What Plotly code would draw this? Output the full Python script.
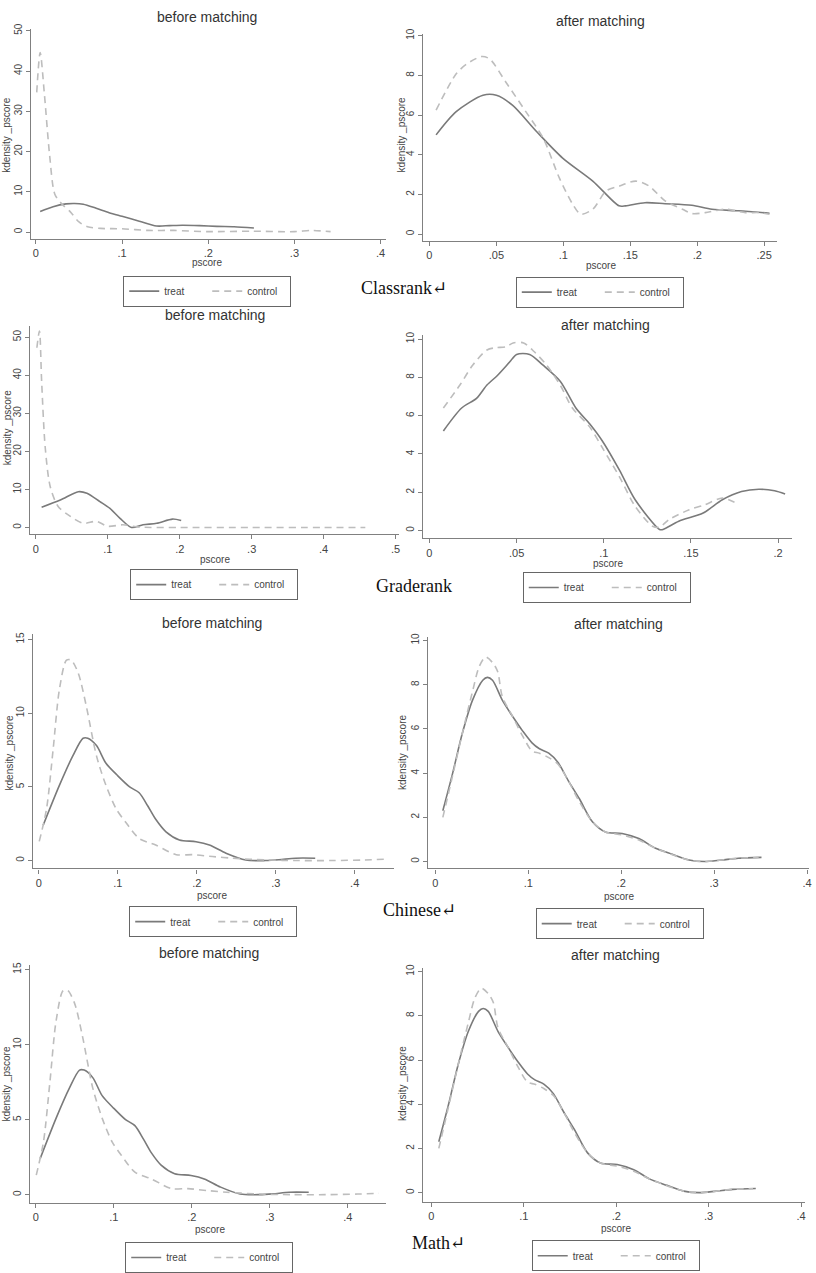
import plotly.graph_objects as go

# ---- values: pscore vs kernel density ----

# Classrank
classrank_before_treat_x = [0.005, 0.02, 0.035, 0.045, 0.055, 0.07, 0.085, 0.1, 0.12, 0.14, 0.155, 0.17, 0.19, 0.21, 0.23, 0.253]
classrank_before_treat_y = [5.1, 6.3, 7.0, 7.1, 6.9, 5.9, 4.8, 3.9, 2.7, 1.5, 1.6, 1.7, 1.6, 1.4, 1.3, 1.0]
classrank_before_control_x = [0.001, 0.005, 0.010, 0.016, 0.022, 0.030, 0.040, 0.050, 0.060, 0.075, 0.10, 0.13, 0.16, 0.20, 0.25, 0.30, 0.32, 0.342]
classrank_before_control_y = [34.7, 44.6, 34.0, 19.0, 9.4, 7.0, 5.0, 2.5, 1.3, 0.9, 0.8, 0.4, 0.4, 0.1, 0.2, 0.1, 0.4, 0.1]

classrank_after_treat_x = [0.005, 0.020, 0.040, 0.050, 0.062, 0.080, 0.0995, 0.122, 0.1416, 0.1465, 0.161, 0.176, 0.196, 0.211, 0.231, 0.254]
classrank_after_treat_y = [5.0, 6.17, 7.0, 7.0, 6.5, 5.17, 3.83, 2.67, 1.42, 1.42, 1.58, 1.53, 1.45, 1.25, 1.17, 1.05]
classrank_after_control_x = [0.005, 0.020, 0.028, 0.039, 0.045, 0.057, 0.072, 0.085, 0.097, 0.107, 0.113, 0.122, 0.132, 0.142, 0.154, 0.164, 0.176, 0.189, 0.196, 0.206, 0.221, 0.236, 0.246, 0.254]
classrank_after_control_y = [6.25, 8.08, 8.58, 8.95, 8.83, 7.67, 6.17, 4.83, 2.83, 1.5, 1.0, 1.25, 2.17, 2.42, 2.67, 2.42, 1.67, 1.25, 1.03, 1.08, 1.25, 1.08, 1.08, 1.0]

# Graderank
graderank_before_treat_x = [0.008, 0.034, 0.059, 0.071, 0.089, 0.103, 0.117, 0.133, 0.149, 0.168, 0.19, 0.202]
graderank_before_treat_y = [5.3, 7.2, 9.4, 9.0, 6.8, 5.0, 2.4, 0.0, 0.7, 1.1, 2.2, 1.8]
graderank_before_control_x = [0.0014, 0.005, 0.008, 0.013, 0.020, 0.031, 0.048, 0.066, 0.084, 0.10, 0.121, 0.144, 0.2, 0.3, 0.4, 0.458]
graderank_before_control_y = [47.2, 51.6, 38.5, 21.0, 10.7, 5.5, 2.9, 1.1, 1.6, 0.3, 0.7, 0.1, 0.0, 0.0, 0.0, 0.0]

graderank_after_treat_x = [0.008, 0.0185, 0.027, 0.033, 0.039, 0.046, 0.050, 0.0575, 0.065, 0.075, 0.084, 0.092, 0.099, 0.109, 0.118, 0.132, 0.134, 0.143, 0.157, 0.168, 0.179, 0.189, 0.198, 0.204]
graderank_after_treat_y = [5.2, 6.4, 6.9, 7.6, 8.1, 8.8, 9.2, 9.2, 8.65, 7.8, 6.4, 5.56, 4.7, 3.15, 1.6, 0.05, 0.05, 0.48, 0.91, 1.6, 2.03, 2.15, 2.07, 1.9]
graderank_after_control_x = [0.008, 0.0175, 0.025, 0.033, 0.038, 0.044, 0.048, 0.054, 0.060, 0.067, 0.075, 0.082, 0.092, 0.099, 0.109, 0.118, 0.128, 0.132, 0.1375, 0.149, 0.158, 0.168, 0.176]
graderank_after_control_y = [6.4, 7.6, 8.66, 9.43, 9.55, 9.6, 9.8, 9.8, 9.35, 8.66, 7.6, 6.4, 5.4, 4.35, 2.8, 1.26, 0.22, 0.17, 0.57, 1.08, 1.34, 1.69, 1.43]

# Chinese
chinese_before_treat_x = [0.0055, 0.026, 0.043, 0.056, 0.062, 0.073, 0.085, 0.10, 0.115, 0.127, 0.138, 0.148, 0.161, 0.178, 0.199, 0.216, 0.237, 0.262, 0.287, 0.304, 0.325, 0.350]
chinese_before_treat_y = [2.4, 5.1, 7.1, 8.3, 8.3, 7.8, 6.6, 5.75, 5.0, 4.6, 3.7, 2.8, 1.95, 1.4, 1.28, 1.05, 0.5, 0.04, 0.0, 0.05, 0.16, 0.16]
chinese_before_control_x = [0.0005, 0.0097, 0.018, 0.026, 0.035, 0.041, 0.050, 0.060, 0.073, 0.085, 0.098, 0.11, 0.127, 0.148, 0.174, 0.195, 0.22, 0.245, 0.287, 0.329, 0.371, 0.413, 0.44]
chinese_before_control_y = [1.3, 3.5, 7.5, 11.6, 13.6, 13.6, 12.7, 10.5, 7.1, 5.1, 3.5, 2.6, 1.5, 1.05, 0.4, 0.4, 0.27, 0.16, 0.04, 0.0, 0.0, 0.04, 0.09]

chinese_after_treat_x = [0.008, 0.0186, 0.029, 0.040, 0.051, 0.056, 0.0615, 0.072, 0.083, 0.094, 0.104, 0.112, 0.122, 0.132, 0.143, 0.155, 0.169, 0.183, 0.201, 0.219, 0.237, 0.255, 0.273, 0.29, 0.308, 0.326, 0.351]
chinese_after_treat_y = [2.3, 4.0, 5.8, 7.3, 8.2, 8.33, 8.2, 7.3, 6.57, 5.9, 5.37, 5.1, 4.9, 4.48, 3.66, 2.84, 1.8, 1.34, 1.27, 1.04, 0.6, 0.33, 0.07, 0.0, 0.07, 0.15, 0.19]
chinese_after_control_x = [0.008, 0.0186, 0.029, 0.040, 0.047, 0.054, 0.0615, 0.067, 0.072, 0.083, 0.094, 0.104, 0.112, 0.122, 0.132, 0.143, 0.155, 0.169, 0.183, 0.201, 0.219, 0.237, 0.273, 0.29, 0.326, 0.348]
chinese_after_control_y = [2.0, 3.9, 5.8, 7.7, 8.8, 9.25, 9.0, 8.6, 7.46, 6.57, 5.67, 5.0, 4.9, 4.7, 4.4, 3.66, 2.7, 1.8, 1.34, 1.2, 0.97, 0.6, 0.07, 0.0, 0.15, 0.18]

# Math (the panels look the same as the Chinese ones)
math_before_treat_x = chinese_before_treat_x
math_before_treat_y = chinese_before_treat_y
math_before_control_x = chinese_before_control_x
math_before_control_y = chinese_before_control_y
math_after_treat_x = chinese_after_treat_x
math_after_treat_y = chinese_after_treat_y
math_after_control_x = chinese_after_control_x
math_after_control_y = chinese_after_control_y

# tick values
ticks_x_04 = [0, 0.1, 0.2, 0.3, 0.4]
ticks_x_05 = [0, 0.1, 0.2, 0.3, 0.4, 0.5]
ticks_x_025 = [0, 0.05, 0.1, 0.15, 0.2, 0.25]
ticks_x_020 = [0, 0.05, 0.1, 0.15, 0.2]
ticks_y_50 = [0, 10, 20, 30, 40, 50]
ticks_y_10 = [0, 2, 4, 6, 8, 10]
ticks_y_15 = [0, 5, 10, 15]

captions = ["Classrank\u21b5", "Graderank", "Chinese\u21b5", "Math\u21b5"]

# ---- page layout (pixels of the 816 x 1273 page) ----
W, H = 816, 1273
FONT = "Liberation Sans, Arial, sans-serif"
TREAT_COLOR = "#7a7a7a"
CONTROL_COLOR = "#bdbdbd"
AXIS_COLOR = "#808080"
TEXT_COLOR = "#444444"


def fx(p):
    return p / W


def fy(p):
    return 1 - p / H


def pix_range(lo, hi, p0, v0, p1, v1):
    k = (v1 - v0) / (p1 - p0)
    return [v0 + (lo - p0) * k, v0 + (hi - p0) * k]


def tick_text(vals):
    out = []
    for v in vals:
        s = f"{v:g}"
        out.append(s[1:] if s.startswith("0.") else s)
    return out


def note(text, x, y, size, color=TEXT_COLOR, angle=0, family=None):
    font = dict(size=size, color=color)
    if family:
        font["family"] = family
    return dict(text=text, x=fx(x), y=fy(y), xref="paper", yref="paper",
                xanchor="center", yanchor="middle", showarrow=False,
                textangle=angle, font=font)


# box = (left, right, top, bottom) of the axis lines; xcal/ycal = two ticks (px, value)
panels = [
    dict(title="before matching",
         treat=(classrank_before_treat_x, classrank_before_treat_y),
         control=(classrank_before_control_x, classrank_before_control_y),
         box=(31, 387, 23, 235), xcal=(36, 0, 382, 0.4), ycal=(228, 0, 25, 50),
         xt=ticks_x_04, yt=ticks_y_50, t=(208, 11), xl=(208, 259), yl=(7, 130), lg=(208, 272)),
    dict(title="after matching",
         treat=(classrank_after_treat_x, classrank_after_treat_y),
         control=(classrank_after_control_x, classrank_after_control_y),
         box=(425, 780, 28, 237), xcal=(431, 0, 767, 0.25), ycal=(230, 0, 30, 10),
         xt=ticks_x_025, yt=ticks_y_10, t=(603, 15), xl=(603, 262), yl=(403, 130), lg=(602, 273)),
    dict(title="before matching",
         treat=(graderank_before_treat_x, graderank_before_treat_y),
         control=(graderank_before_control_x, graderank_before_control_y),
         box=(30, 400, 323, 533), xcal=(36, 0, 397, 0.5), ycal=(526, 0, 334, 50),
         xt=ticks_x_05, yt=ticks_y_50, t=(216, 312), xl=(216, 558), yl=(7, 425), lg=(215, 568)),
    dict(title="after matching",
         treat=(graderank_after_treat_x, graderank_after_treat_y),
         control=(graderank_after_control_x, graderank_after_control_y),
         box=(425, 795, 332, 537), xcal=(431, 0, 781, 0.2), ycal=(529, 0, 336, 10),
         xt=ticks_x_020, yt=ticks_y_10, t=(608, 322), xl=(610, 562), yl=None, lg=(609, 571)),
    dict(title="before matching",
         treat=(chinese_before_treat_x, chinese_before_treat_y),
         control=(chinese_before_control_x, chinese_before_control_y),
         box=(33, 395, 633, 870), xcal=(39, 0, 356, 0.4), ycal=(862, 0, 639, 15),
         xt=ticks_x_04, yt=ticks_y_15, t=(213, 622), xl=(213, 897), yl=(10, 753), lg=(214, 908)),
    dict(title="after matching",
         treat=(chinese_after_treat_x, chinese_after_treat_y),
         control=(chinese_after_control_x, chinese_after_control_y),
         box=(430, 812, 637, 870), xcal=(437, 0, 810, 0.4), ycal=(863, 0, 640, 10),
         xt=ticks_x_04, yt=ticks_y_10, t=(621, 623), xl=(621, 898), yl=(404, 753), lg=(622, 910)),
    dict(title="before matching",
         treat=(math_before_treat_x, math_before_treat_y),
         control=(math_before_control_x, math_before_control_y),
         box=(30, 387, 967, 1207), xcal=(36, 0, 349, 0.4), ycal=(1199, 0, 972, 15),
         xt=ticks_x_04, yt=ticks_y_15, t=(210, 955), xl=(211, 1234), yl=(7, 1087), lg=(210, 1247)),
    dict(title="after matching",
         treat=(math_after_treat_x, math_after_treat_y),
         control=(math_after_control_x, math_after_control_y),
         box=(425, 808, 970, 1206), xcal=(433, 0, 804, 0.4), ycal=(1197, 0, 974, 10),
         xt=ticks_x_04, yt=ticks_y_10, t=(618, 957), xl=(618, 1233), yl=(404, 1087), lg=(618, 1245)),
]

caption_pos = [(405, 284), (416, 585), (421, 912), (440, 1248)]

fig = go.Figure()
layout = dict(
    width=W, height=H,
    margin=dict(l=0, r=0, t=0, b=0),
    paper_bgcolor="white", plot_bgcolor="white",
    font=dict(family=FONT, color=TEXT_COLOR),
    showlegend=True,
)
annotations = []

for i, p in enumerate(panels, start=1):
    sfx = "" if i == 1 else str(i)
    leg = "legend" if i == 1 else f"legend{i}"
    left, right, top, bottom = p["box"]

    for name, (xs, ys), color, dash in [("treat", p["treat"], TREAT_COLOR, "solid"),
                                         ("control", p["control"], CONTROL_COLOR, "7px,5px")]:
        fig.add_trace(go.Scatter(
            x=xs, y=ys, name=name, mode="lines",
            line=dict(color=color, width=1.6, dash=dash, shape="spline", smoothing=0.8),
            xaxis=f"x{sfx}", yaxis=f"y{sfx}", legend=leg,
        ))

    layout[f"xaxis{sfx}"] = dict(
        domain=[fx(left), fx(right)], anchor=f"y{sfx}",
        range=pix_range(left, right, *p["xcal"]),
        tickvals=p["xt"], ticktext=tick_text(p["xt"]),
        showline=True, linecolor=AXIS_COLOR, linewidth=1.2,
        ticks="outside", ticklen=4, tickcolor=AXIS_COLOR,
        showgrid=False, zeroline=False,
        tickfont=dict(size=11, color=TEXT_COLOR),
    )
    layout[f"yaxis{sfx}"] = dict(
        domain=[fy(bottom), fy(top)], anchor=f"x{sfx}",
        range=pix_range(bottom, top, *p["ycal"]),
        tickvals=p["yt"], ticktext=tick_text(p["yt"]),
        showline=True, linecolor=AXIS_COLOR, linewidth=1.2,
        ticks="outside", ticklen=4, tickcolor=AXIS_COLOR,
        showgrid=False, zeroline=False, tickangle=-90,
        tickfont=dict(size=10, color=TEXT_COLOR),
    )
    layout[leg] = dict(
        orientation="h", x=fx(p["lg"][0]), y=fy(p["lg"][1]),
        xanchor="center", yanchor="top",
        bordercolor="#666666", borderwidth=1, bgcolor="white",
        font=dict(size=10, color=TEXT_COLOR),
        itemwidth=30, tracegroupgap=0,
        entrywidth=38, entrywidthmode="pixels",
    )

    annotations.append(note(p["title"], *p["t"], 14, "#333333"))
    annotations.append(note("pscore", *p["xl"], 10))
    if p["yl"] is not None:
        annotations.append(note("kdensity _pscore", *p["yl"], 10, angle=-90))

for text, (cx, cy) in zip(captions, caption_pos):
    annotations.append(note(text, cx, cy, 18, "#111111",
                            family="Liberation Serif, DejaVu Serif, serif"))

layout["annotations"] = annotations
fig.update_layout(**layout)

# the page is photographed at exactly the figure size, so drop the body margin
fig.write_html("out.html", config={"displayModeBar": False},
               post_script="document.body.style.margin = '0px';")
